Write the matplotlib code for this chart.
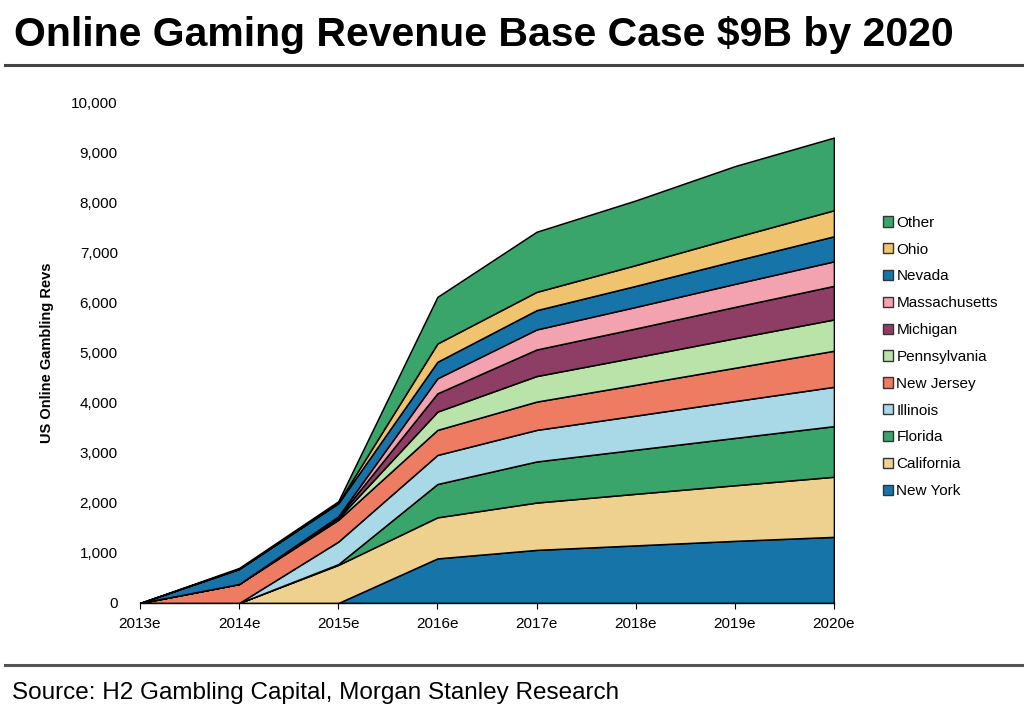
import numpy as np
import matplotlib
matplotlib.use('Agg')
import matplotlib.pyplot as plt
from matplotlib.lines import Line2D

plt.rcParams['font.family'] = ['Liberation Sans', 'DejaVu Sans']

# --- data (USD m), stacked bottom -> top ---
years = ['2013e', '2014e', '2015e', '2016e', '2017e', '2018e', '2019e', '2020e']

new_york      = [0, 0,   0,   890, 1060, 1150, 1240, 1320]
california    = [0, 0,   760, 820, 945,  1030, 1110, 1200]
florida       = [0, 0,   15,  665, 820,  880,  945,  1010]
illinois      = [0, 0,   450, 580, 630,  680,  735,  785]
new_jersey    = [0, 380, 435, 500, 565,  615,  665,  720]
pennsylvania  = [0, 0,   30,  365, 510,  550,  590,  625]
michigan      = [0, 0,   20,  365, 530,  575,  625,  670]
massachusetts = [0, 0,   20,  300, 400,  430,  460,  490]
nevada        = [0, 300, 260, 330, 385,  420,  460,  500]
ohio          = [0, 0,   10,  365, 365,  415,  470,  520]
other         = [0, 20,  30,  930, 1200, 1290, 1420, 1450]

states = ['New York', 'California', 'Florida', 'Illinois', 'New Jersey',
          'Pennsylvania', 'Michigan', 'Massachusetts', 'Nevada', 'Ohio', 'Other']
series = [new_york, california, florida, illinois, new_jersey,
          pennsylvania, michigan, massachusetts, nevada, ohio, other]
colors = ['#1774a8', '#efd18f', '#3aa56b', '#a9d9e6', '#ee7c62',
          '#b9e3a8', '#8e3d64', '#f3a3af', '#1774a8', '#f0c46f', '#3aa56b']

fig = plt.figure(figsize=(10.24, 7.06), dpi=100)
fig.patch.set_facecolor('white')

# title + rules
fig.text(0.014, 0.950, 'Online Gaming Revenue Base Case $9B by 2020',
         fontsize=29.5, fontweight='bold', ha='left', va='center')
fig.add_artist(Line2D([0.005, 1.0], [0.908, 0.908], color='#444444', lw=2.2))
fig.add_artist(Line2D([0.005, 1.0], [0.058, 0.058], color='#555555', lw=2.2))
fig.text(0.012, 0.018, 'Source: H2 Gambling Capital, Morgan Stanley Research',
         fontsize=17.5, ha='left', va='center')

ax = fig.add_axes([0.1367, 0.1459, 0.6777, 0.7096])
x = np.arange(len(years))
polys = ax.stackplot(x, *series, colors=colors, labels=states,
                     edgecolor='black', linewidth=1.1)

ax.set_xlim(0, len(years) - 1)
ax.set_ylim(0, 10000)
ax.set_xticks(x)
ax.set_xticklabels(years)
ax.set_yticks(np.arange(0, 10001, 1000))
ax.set_yticklabels([f'{v:,}' for v in range(0, 10001, 1000)])
ax.tick_params(axis='y', length=0, pad=16, labelsize=11)
ax.tick_params(axis='x', length=4, direction='out', pad=6, labelsize=11)
for side in ['top', 'right', 'left']:
    ax.spines[side].set_visible(False)
ax.spines['bottom'].set_linewidth(1.0)
ax.set_ylabel('US Online Gambling Revs', fontsize=10.5, fontweight='bold', labelpad=12)

# legend, top entry is the top layer
handles, labels = ax.get_legend_handles_labels()
leg = fig.legend(handles[::-1], labels[::-1], loc='upper left',
                 bbox_to_anchor=(0.856, 0.703), frameon=False, fontsize=11,
                 handlelength=0.65, handleheight=0.65, handletextpad=0.25,
                 labelspacing=0.84, borderaxespad=0)
for h in leg.legend_handles:
    h.set_edgecolor('#333333')
    h.set_linewidth(1.0)

fig.savefig('out.png', dpi=100, facecolor='white')
